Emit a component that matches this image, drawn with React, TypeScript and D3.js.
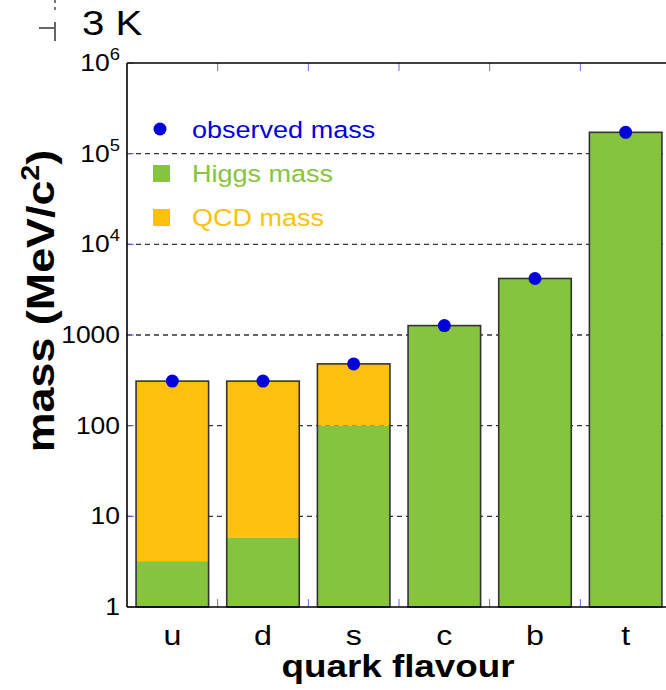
import * as d3 from 'd3'
import type { ReactNode } from 'react'

const FLAVOURS = ['u', 'd', 's', 'c', 'b', 't']
const OBSERVED = [310, 310, 480, 1270, 4200, 172000]
const HIGGS = [3.2, 5.8, 100, 1270, 4200, 172000]
const Y_TICKS = [1, 10, 100, 1000, 1e4, 1e5, 1e6]
const GRID = [10, 100, 1000, 1e4, 1e5]

const GREEN = '#86c440'
const ORANGE = '#ffbf0f'
const BLUE = '#0000dd'
const FONT = '"Liberation Sans", Arial, sans-serif'
// the original font runs a bit wider than Arial
const SX = 1.15

const W = 666
const H = 690
const left = 127
const right = 671
const top = 63
const bottom = 607

type TProps = {
  x: number
  y: number
  size: number
  anchor?: 'start' | 'middle' | 'end'
  fill?: string
  bold?: boolean
  rotate?: number
  children: ReactNode
}

function Label({ x, y, size, anchor = 'start', fill = '#000', bold, rotate = 0, children }: TProps) {
  return (
    <text
      transform={`translate(${x},${y}) rotate(${rotate}) scale(${SX},1)`}
      textAnchor={anchor}
      fontSize={size}
      fontWeight={bold ? 'bold' : 'normal'}
      fill={fill}
    >
      {children}
    </text>
  )
}

export default function App() {
  const x = d3.scaleBand<string>().domain(FLAVOURS).range([left, right]).paddingInner(0.2).paddingOuter(0.1)
  const y = d3.scaleLog().domain([1, 1e6]).range([bottom, top])
  const step = x.step()
  const cx = (f: string) => (x(f) ?? 0) + x.bandwidth() / 2

  const tickLabel = (v: number) => {
    if (v >= 1e4) {
      const e = Math.round(Math.log10(v))
      return (
        <>
          10<tspan dy={-11} fontSize={16}>{e}</tspan>
        </>
      )
    }
    return String(v)
  }

  return (
    <svg width={W} height={H} style={{ position: 'absolute', left: 0, top: 0 }} fontFamily={FONT}>
      {/* stray decoration top-left */}
      <line x1={55} x2={55} y1={0} y2={14} stroke="#777" strokeWidth={2} strokeDasharray="3,4" />
      <line x1={55} x2={55} y1={22} y2={41} stroke="#666" strokeWidth={2} />
      <line x1={39} x2={55} y1={28} y2={28} stroke="#666" strokeWidth={2} />
      <Label x={82} y={35} size={35}>3 K</Label>

      {/* grid */}
      {GRID.map(g => (
        <line key={g} x1={left} x2={right} y1={y(g)} y2={y(g)} stroke="#333" strokeWidth={1.3} strokeDasharray="5,4" />
      ))}

      {/* bars */}
      {FLAVOURS.map((f, i) => (
        <g key={f}>
          <rect x={x(f)} y={y(OBSERVED[i])} width={x.bandwidth()} height={y(HIGGS[i]) - y(OBSERVED[i])} fill={ORANGE} />
          <rect x={x(f)} y={y(HIGGS[i])} width={x.bandwidth()} height={bottom - y(HIGGS[i])} fill={GREEN} />
          <rect x={x(f)} y={y(OBSERVED[i])} width={x.bandwidth()} height={bottom - y(OBSERVED[i])} fill="none" stroke="#333" strokeWidth={1.6} />
        </g>
      ))}

      {/* ticks */}
      {Y_TICKS.map(t => (
        <line key={t} x1={left} x2={left + 7} y1={y(t)} y2={y(t)} stroke="#6666ff" strokeWidth={1} />
      ))}
      {d3.range(1, 6).map(k => (
        <g key={k}>
          <line x1={left + k * step} x2={left + k * step} y1={bottom} y2={bottom - 8} stroke="#6666ff" strokeWidth={1} />
          <line x1={left + k * step} x2={left + k * step} y1={top} y2={top + 8} stroke="#6666ff" strokeWidth={1} />
        </g>
      ))}

      {/* frame */}
      <line x1={left} x2={left} y1={top} y2={bottom} stroke="#000" strokeWidth={1.6} />
      <line x1={left} x2={right} y1={top} y2={top} stroke="#000" strokeWidth={1.6} />
      <line x1={left} x2={right} y1={bottom} y2={bottom} stroke="#000" strokeWidth={1.6} />

      {/* observed dots */}
      {FLAVOURS.map((f, i) => (
        <circle key={f} cx={cx(f)} cy={y(OBSERVED[i])} r={6.5} fill={BLUE} />
      ))}

      {/* y tick labels */}
      {Y_TICKS.map(t => (
        <Label key={t} x={t >= 1e4 ? 120 : 120} y={y(t) + 8} size={23} anchor="end">
          {tickLabel(t)}
        </Label>
      ))}

      {/* x tick labels */}
      {FLAVOURS.map(f => (
        <Label key={f} x={cx(f)} y={645} size={28} anchor="middle">
          {f}
        </Label>
      ))}

      {/* axis titles */}
      <Label x={398} y={677} size={32} anchor="middle" bold>quark flavour</Label>
      <Label x={54} y={301} size={39} anchor="middle" bold rotate={-90}>
        mass (MeV/c<tspan dy={-15} fontSize={25}>2</tspan><tspan dy={15}>)</tspan>
      </Label>

      {/* legend */}
      <circle cx={160} cy={129} r={6.5} fill={BLUE} />
      <Label x={192} y={138} size={23.5} fill={BLUE}>observed mass</Label>
      <rect x={153} y={165} width={17} height={17} fill={GREEN} />
      <Label x={192} y={182} size={23.5} fill={GREEN}>Higgs mass</Label>
      <rect x={153} y={209} width={17} height={17} fill={ORANGE} />
      <Label x={192} y={226} size={23.5} fill={ORANGE}>QCD mass</Label>
    </svg>
  )
}
